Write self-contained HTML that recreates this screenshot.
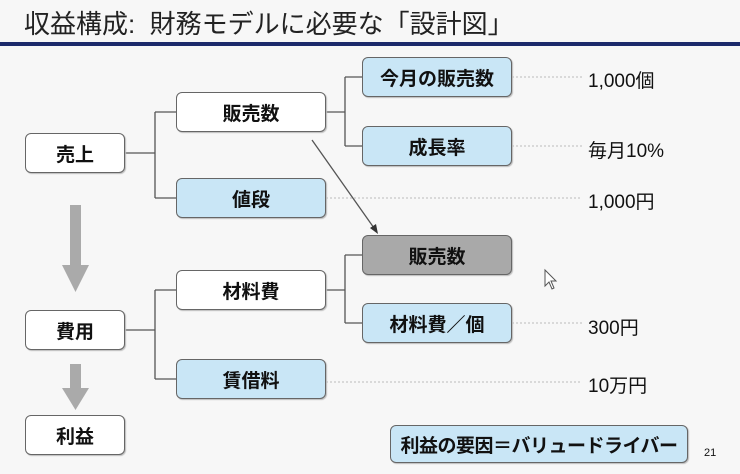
<!DOCTYPE html>
<html><head><meta charset="utf-8"><style>
body{margin:0;width:740px;height:474px;background:#f7f7f7;font-family:"Liberation Sans","Noto Sans CJK JP",sans-serif;overflow:hidden;position:relative}
.t{position:absolute;left:24px;top:4px;font-size:26px;color:#222;white-space:pre}
.b{position:absolute;box-sizing:border-box;border:1.5px solid #666;border-radius:6px;background:#fff;display:flex;align-items:center;justify-content:center;font-size:19px;color:#111;box-shadow:1px 1px 1px #bbb;white-space:nowrap;font-weight:bold}
.bl{background:#c9e6f6}
.g{background:#a9a9a9}
.v{position:absolute;font-size:19px;color:#111;white-space:nowrap}
</style></head><body>
<div class="t">収益構成:  財務モデルに必要な「設計図」</div>
<div style="position:absolute;left:0;top:42px;width:740px;height:4px;background:#1c2a6b"></div>
<svg width="740" height="474" style="position:absolute;left:0;top:0">
<g stroke="#555" stroke-width="1.3" fill="none">
<path d="M125 153H155M155 112V198M155 112H176M155 198H176"/>
<path d="M326 112H345M345 77V146M345 77H362M345 146H362"/>
<path d="M326 290H345M345 255V323M345 255H362M345 323H362"/>
<path d="M125 330H155M155 290V379M155 290H176M155 379H176"/>
<path d="M312 140L374 228"/>
</g>
<polygon points="378,234 370,228 376,224" fill="#333"/>
<g stroke="#bbb" stroke-width="1" stroke-dasharray="2,2">
<path d="M512 77H582M512 146H582M326 198H582M512 323H582M326 382H582"/>
</g>
<rect x="70" y="205" width="11" height="62" fill="#aaa"/>
<polygon points="62,265 89,265 75.5,292" fill="#aaa"/>
<rect x="70" y="364" width="11" height="26" fill="#aaa"/>
<polygon points="62,388 89,388 75.5,410" fill="#aaa"/>
<path d="M545 270V286L549 282L552 289L554 288L551 281H556Z" fill="#fff" stroke="#555" stroke-width="1"/>
</svg>
<div class="b" style="left:25px;top:133px;width:100px;height:40px">売上</div>
<div class="b" style="left:176px;top:92px;width:150px;height:40px">販売数</div>
<div class="b bl" style="left:176px;top:178px;width:150px;height:40px">値段</div>
<div class="b bl" style="left:362px;top:57px;width:150px;height:40px">今月の販売数</div>
<div class="b bl" style="left:362px;top:126px;width:150px;height:40px">成長率</div>
<div class="b g" style="left:362px;top:235px;width:150px;height:40px">販売数</div>
<div class="b" style="left:176px;top:270px;width:150px;height:40px">材料費</div>
<div class="b bl" style="left:362px;top:303px;width:150px;height:40px">材料費／個</div>
<div class="b" style="left:25px;top:310px;width:100px;height:40px">費用</div>
<div class="b bl" style="left:176px;top:359px;width:150px;height:40px">賃借料</div>
<div class="b" style="left:25px;top:415px;width:100px;height:40px">利益</div>
<div class="b bl" style="left:390px;top:425px;width:298px;height:38px;font-size:19px;letter-spacing:-0.5px">利益の要因＝バリュードライバー</div>
<div class="v" style="left:588px;top:66px">1,000個</div>
<div class="v" style="left:588px;top:136px">毎月10%</div>
<div class="v" style="left:588px;top:187px">1,000円</div>
<div class="v" style="left:588px;top:313px">300円</div>
<div class="v" style="left:588px;top:371px">10万円</div>
<div class="v" style="left:704px;top:447px;font-size:11px">21</div>
</body></html>
